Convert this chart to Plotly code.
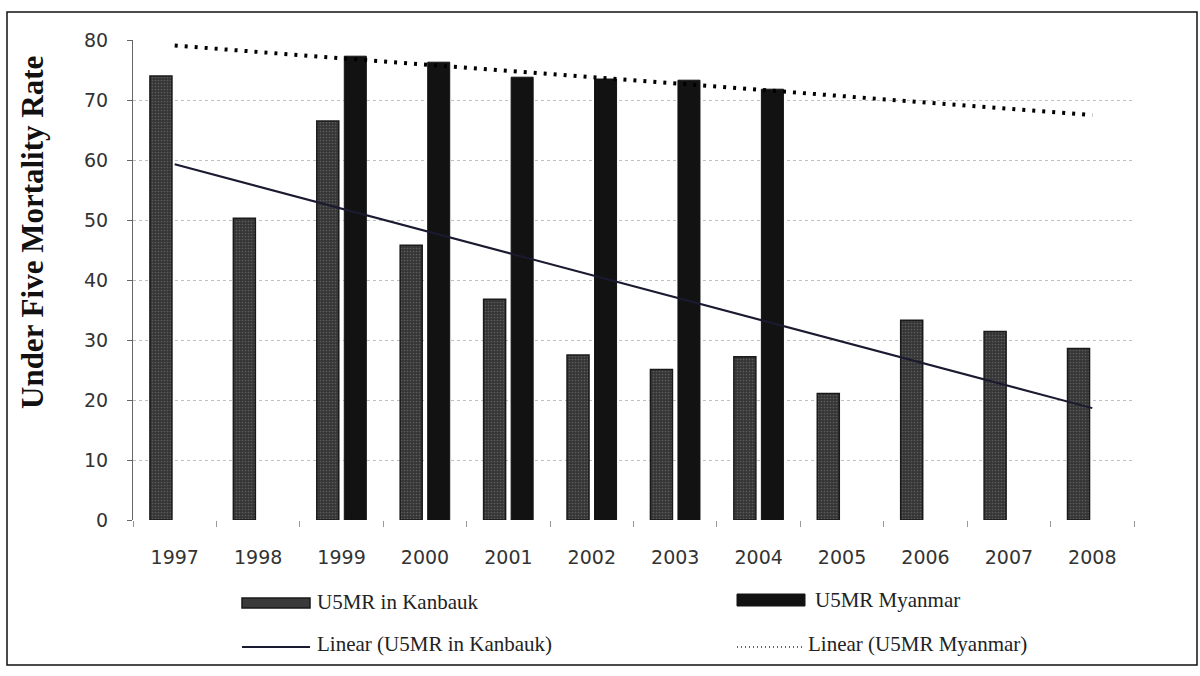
import numpy as np
import plotly.graph_objects as go

# Under-five mortality rate: Kanbauk vs national (Myanmar) figures
years = ["1997", "1998", "1999", "2000", "2001", "2002",
         "2003", "2004", "2005", "2006", "2007", "2008"]
u5mr_kanbauk = [74.0, 50.3, 66.5, 45.8, 36.8, 27.5, 25.1, 27.2, 21.1, 33.3, 31.4, 28.6]
u5mr_myanmar = [None, None, 77.3, 76.3, 73.8, 73.5, 73.3, 71.8, None, None, None, None]
y_ticks = [0, 10, 20, 30, 40, 50, 60, 70, 80]

# Linear trend lines (least squares on the year index, projected over all years)
idx = np.arange(1, len(years) + 1)
k_fit = np.polyfit(idx, u5mr_kanbauk, 1)
m_idx = np.array([i for i, v in zip(idx, u5mr_myanmar) if v is not None])
m_val = np.array([v for v in u5mr_myanmar if v is not None])
m_fit = np.polyfit(m_idx, m_val, 1)
trend_kanbauk = np.polyval(k_fit, idx)
trend_myanmar = np.polyval(m_fit, idx)

# plot-area geometry in pixels, used to place the frame, title and legend
W, H = 1200, 676
PL, PR, PT, PB = 133, 1134, 40, 520


def px(x):
    return (x - PL) / (PR - PL)


def py(y):
    return (PB - y) / (PB - PT)


fig = go.Figure()

fig.add_trace(go.Bar(
    x=years, y=u5mr_kanbauk, name="U5MR in Kanbauk",
    marker=dict(
        color="#333333",
        line=dict(color="#1a1a1a", width=1.5),
        pattern=dict(shape=".", bgcolor="#353535", fgcolor="#858585",
                     size=3, solidity=0.25),
    ),
))
fig.add_trace(go.Bar(
    x=years, y=u5mr_myanmar, name="U5MR Myanmar",
    marker=dict(color="#121212", line=dict(color="#121212", width=1)),
))
fig.add_trace(go.Scatter(
    x=years, y=trend_kanbauk, mode="lines", name="Linear (U5MR in Kanbauk)",
    line=dict(color="#1a1a30", width=2),
))
fig.add_trace(go.Scatter(
    x=years, y=trend_myanmar, mode="lines", name="Linear (U5MR Myanmar)",
    line=dict(color="#000000", width=4, dash="3px,7px"),
))

# outer frame
shapes = [dict(type="rect", xref="paper", yref="paper",
               x0=px(7), x1=px(1197), y0=py(665), y1=py(12),
               line=dict(color="#111111", width=1.5), layer="below")]

# legend drawn as two columns
legend_font = dict(family="Liberation Serif", size=21, color="#222222")
shapes += [
    dict(type="rect", xref="paper", yref="paper",
         x0=px(242), x1=px(310), y0=py(608), y1=py(598),
         fillcolor="#3a3a3a", line=dict(color="#1a1a1a", width=1.5)),
    dict(type="rect", xref="paper", yref="paper",
         x0=px(737), x1=px(805), y0=py(606), y1=py(594),
         fillcolor="#121212", line=dict(color="#121212", width=1)),
    dict(type="line", xref="paper", yref="paper",
         x0=px(242), x1=px(310), y0=py(647), y1=py(647),
         line=dict(color="#1a1a30", width=2)),
    dict(type="line", xref="paper", yref="paper",
         x0=px(737), x1=px(802), y0=py(647), y1=py(647),
         line=dict(color="#333333", width=1.5, dash="1px,3px")),
]
legend_items = [
    ("U5MR in Kanbauk", 315, 602),
    ("U5MR Myanmar", 813, 600),
    ("Linear (U5MR in Kanbauk)", 315, 644),
    ("Linear (U5MR Myanmar)", 806, 644),
]
annotations = [
    dict(text=t, xref="paper", yref="paper", x=px(x), y=py(y),
         xanchor="left", yanchor="middle", showarrow=False, font=legend_font)
    for t, x, y in legend_items
]
annotations.append(dict(
    text="<b>Under Five Mortality Rate</b>", xref="paper", yref="paper",
    x=px(32), y=py(233), textangle=-90, showarrow=False,
    xanchor="center", yanchor="middle",
    font=dict(family="Liberation Serif", size=31, color="#111111"),
))

fig.update_layout(
    width=W, height=H,
    margin=dict(l=PL, r=W - PR, t=PT, b=H - PB, pad=0),
    paper_bgcolor="white", plot_bgcolor="white",
    barmode="group", bargap=0.34, bargroupgap=0.2,
    showlegend=False,
    shapes=shapes, annotations=annotations,
)
fig.update_xaxes(
    type="category", showgrid=False, showline=False, zeroline=False,
    ticks="outside", tickson="boundaries", ticklen=6, tickcolor="#999999",
    ticklabelstandoff=24,
    tickfont=dict(family="DejaVu Sans", size=19, color="#333333"),
)
fig.update_yaxes(
    range=[0, 80], tickvals=y_ticks, showgrid=True,
    gridcolor="#c0c0c0", griddash="dot", gridwidth=1,
    showline=True, linecolor="#666666", linewidth=1, zeroline=False,
    ticks="outside", ticklen=5, tickcolor="#666666", ticklabelstandoff=15,
    tickfont=dict(family="DejaVu Sans", size=19, color="#333333"),
)

fig.write_html("out.html")
